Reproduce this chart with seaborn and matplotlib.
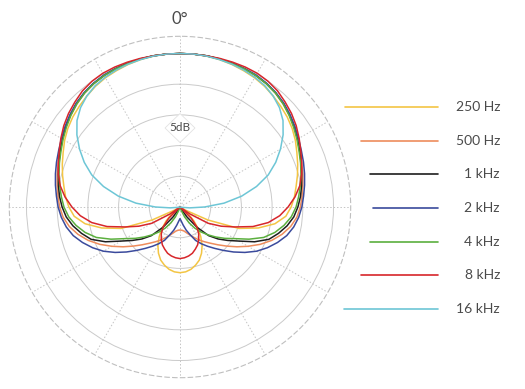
import numpy as np
import pandas as pd
import matplotlib
matplotlib.use("Agg")
import matplotlib.pyplot as plt
import seaborn as sns
from matplotlib.patches import Polygon
from matplotlib.lines import Line2D

# ---------------- data (dB relative to on-axis, 0..180 deg every 5 deg; symmetric) -------------
angles_deg = list(range(0, 181, 5))

db_250 = [0, 0, -0.05, -0.15, -0.3, -0.5, -0.7, -1.0, -1.4, -1.8, -2.2, -2.7, -3.3, -4.0, -4.6,
          -5.2, -5.8, -6.3, -6.9, -7.7, -9.3, -11.8, -14.8, -20.0, -24.0, -32, -23.2, -21.8,
          -20.4, -19.1, -17.8, -16.7, -15.8, -15.2, -14.7, -14.4, -14.3]
db_500 = [0, 0, 0, -0.05, -0.15, -0.2, -0.3, -0.5, -0.8, -1.25, -1.75, -2.3, -2.9, -3.4, -3.9,
          -4.3, -4.7, -5.05, -5.4, -5.9, -6.7, -7.8, -9.1, -10.6, -12.2, -13.7, -15.1, -16.3,
          -17.3, -18.1, -18.8, -19.5, -20.1, -20.6, -21.0, -21.2, -21.25]
db_1k = [0, 0, 0, -0.05, -0.1, -0.15, -0.25, -0.45, -0.75, -1.15, -1.7, -2.25, -2.9, -3.5, -4.0,
         -4.5, -4.9, -5.3, -5.8, -6.4, -7.3, -8.4, -9.6, -11.6, -13.9, -15.5, -16.9, -18.4,
         -20.7, -23.0, -24.7, -30, -30, -30, -30, -30, -30]
db_2k = [0, 0, 0, -0.05, -0.1, -0.15, -0.2, -0.4, -0.7, -1.1, -1.6, -2.15, -2.7, -3.2, -3.6,
         -4.0, -4.4, -4.8, -5.15, -5.6, -6.2, -7.0, -8.1, -9.3, -10.6, -12.1, -13.6, -15.0,
         -16.2, -17.2, -18.1, -19.0, -20.2, -21.1, -22.0, -22.7, -23.1]
db_4k = [0, 0, 0, -0.05, -0.15, -0.2, -0.3, -0.5, -0.8, -1.25, -1.8, -2.4, -3.0, -3.6, -4.1,
         -4.6, -5.1, -5.6, -6.1, -6.8, -7.8, -9.0, -10.5, -12.6, -14.7, -16.1, -17.4, -18.6,
         -19.7, -20.8, -22.0, -23.2, -24.4, -30, -30, -30, -30]
db_8k = [0, 0, 0, 0.05, 0.1, 0.15, 0.15, 0, -0.3, -0.8, -1.3, -1.9, -2.6, -3.3, -3.9,
         -4.5, -5.2, -6.2, -7.4, -8.7, -10.4, -12.7, -15.5, -17.6, -19.7, -23.0, -32, -22.4,
         -20.7, -19.7, -18.9, -18.2, -17.7, -17.2, -16.9, -16.7, -16.6]
db_16k = [0, 0, -0.05, -0.15, -0.25, -0.4, -0.6, -0.9, -1.4, -2.1, -3.1, -4.5, -6.1, -7.8, -9.7,
          -12.1, -14.8, -17.8, -21.0, -23.4, -24.7, -30, -30, -30, -30, -30, -30, -30, -30,
          -30, -30, -30, -30, -30, -30, -30, -30]

series_labels = ["250 Hz", "500 Hz", "1 kHz", "2 kHz", "4 kHz", "8 kHz", "16 kHz"]
series_values = [db_250, db_500, db_1k, db_2k, db_4k, db_8k, db_16k]
series_colors = ["#F3C544", "#EE8C5C", "#1E1E1E", "#3A4A9C", "#5BAF3E", "#D7262B", "#6DC6D6"]

ring_ticks = [-20, -15, -10, -5, 0]
db_floor = -25
db_top = 2.8

# ---------------- build long table ----------------
rows = []
ang = np.array(angles_deg, dtype=float)
for lab, vals in zip(series_labels, series_values):
    v = np.array(vals, dtype=float)
    th = np.r_[ang, 360 - ang[-2::-1]]
    vv = np.r_[v, v[-2::-1]]
    for i, (t, d) in enumerate(zip(th, vv)):
        rows.append({"freq": lab, "order": i, "theta": np.deg2rad(t),
                     "db": max(d, db_floor)})
df = pd.DataFrame(rows)

# ---------------- figure ----------------
sns.set_theme(style="white")
plt.rcParams["font.family"] = ["Lato", "DejaVu Sans"]

W, H = 525, 389
fig = plt.figure(figsize=(W / 100, H / 100), dpi=100)
fig.patch.set_facecolor("white")

cx, cy, R = 180.0, 207.0, 170.7
ax = fig.add_axes([(cx - R) / W, (H - cy - R) / H, 2 * R / W, 2 * R / H], projection="polar")
ax.set_facecolor("none")
ax.set_theta_zero_location("N")
ax.set_theta_direction(-1)

sns.lineplot(data=df, x="theta", y="db", hue="freq", hue_order=series_labels,
             palette=dict(zip(series_labels, series_colors)), sort=False, estimator=None,
             units="freq", legend=False, linewidth=1.1, ax=ax)

ax.set_ylim(db_floor, db_top)
ax.set_yticks(ring_ticks)
ax.set_yticklabels([])
ax.set_xticks(np.deg2rad(np.arange(0, 360, 30)))
ax.set_xticklabels([])
ax.set_xlabel("")
ax.set_ylabel("")
ax.xaxis.grid(True, color="#c4c4c4", linestyle=(0, (1.5, 2.0)), linewidth=0.7)
ax.yaxis.grid(True, color="#cacaca", linestyle="-", linewidth=0.7)
ax.spines["polar"].set_linestyle((0, (4, 3)))
ax.spines["polar"].set_color("#bfbfbf")
ax.spines["polar"].set_linewidth(0.8)
ax.tick_params(length=0)

def fx(x):
    return x / W

def fy(y):
    return 1 - y / H

txt_color = "#4a4a4a"

# 0 deg label
fig.text(fx(cx), fy(19), "0°", ha="center", va="center", fontsize=12, color=txt_color)

# 5dB label with diamond
dc_x, dc_y, hw, hh = cx, 128.0, 15.0, 14.5
diamond = Polygon([[fx(dc_x - hw), fy(dc_y)], [fx(dc_x), fy(dc_y - hh)],
                   [fx(dc_x + hw), fy(dc_y)], [fx(dc_x), fy(dc_y + hh)]],
                  closed=True, transform=fig.transFigure, facecolor="white",
                  edgecolor="#e2e2e2", linewidth=0.6, zorder=5)
fig.add_artist(diamond)
fig.text(fx(dc_x), fy(dc_y), "5dB", ha="center", va="center", fontsize=8.5,
         color=txt_color, zorder=6)

# legend
leg_y0, leg_step = 107.3, 33.6
leg_right, txt_right, leg_R = 437.7, 500.0, 193.0
for i, (lab, col) in enumerate(zip(series_labels, series_colors)):
    y = leg_y0 + i * leg_step
    x0 = cx + np.sqrt(leg_R ** 2 - (y - cy) ** 2)
    fig.add_artist(Line2D([fx(x0), fx(leg_right)], [fy(y), fy(y)], transform=fig.transFigure,
                          color=col, linewidth=1.2))
    fig.text(fx(txt_right), fy(y), lab, ha="right", va="center", fontsize=10,
             color=txt_color)

fig.savefig("out.png", dpi=100, facecolor="white")
